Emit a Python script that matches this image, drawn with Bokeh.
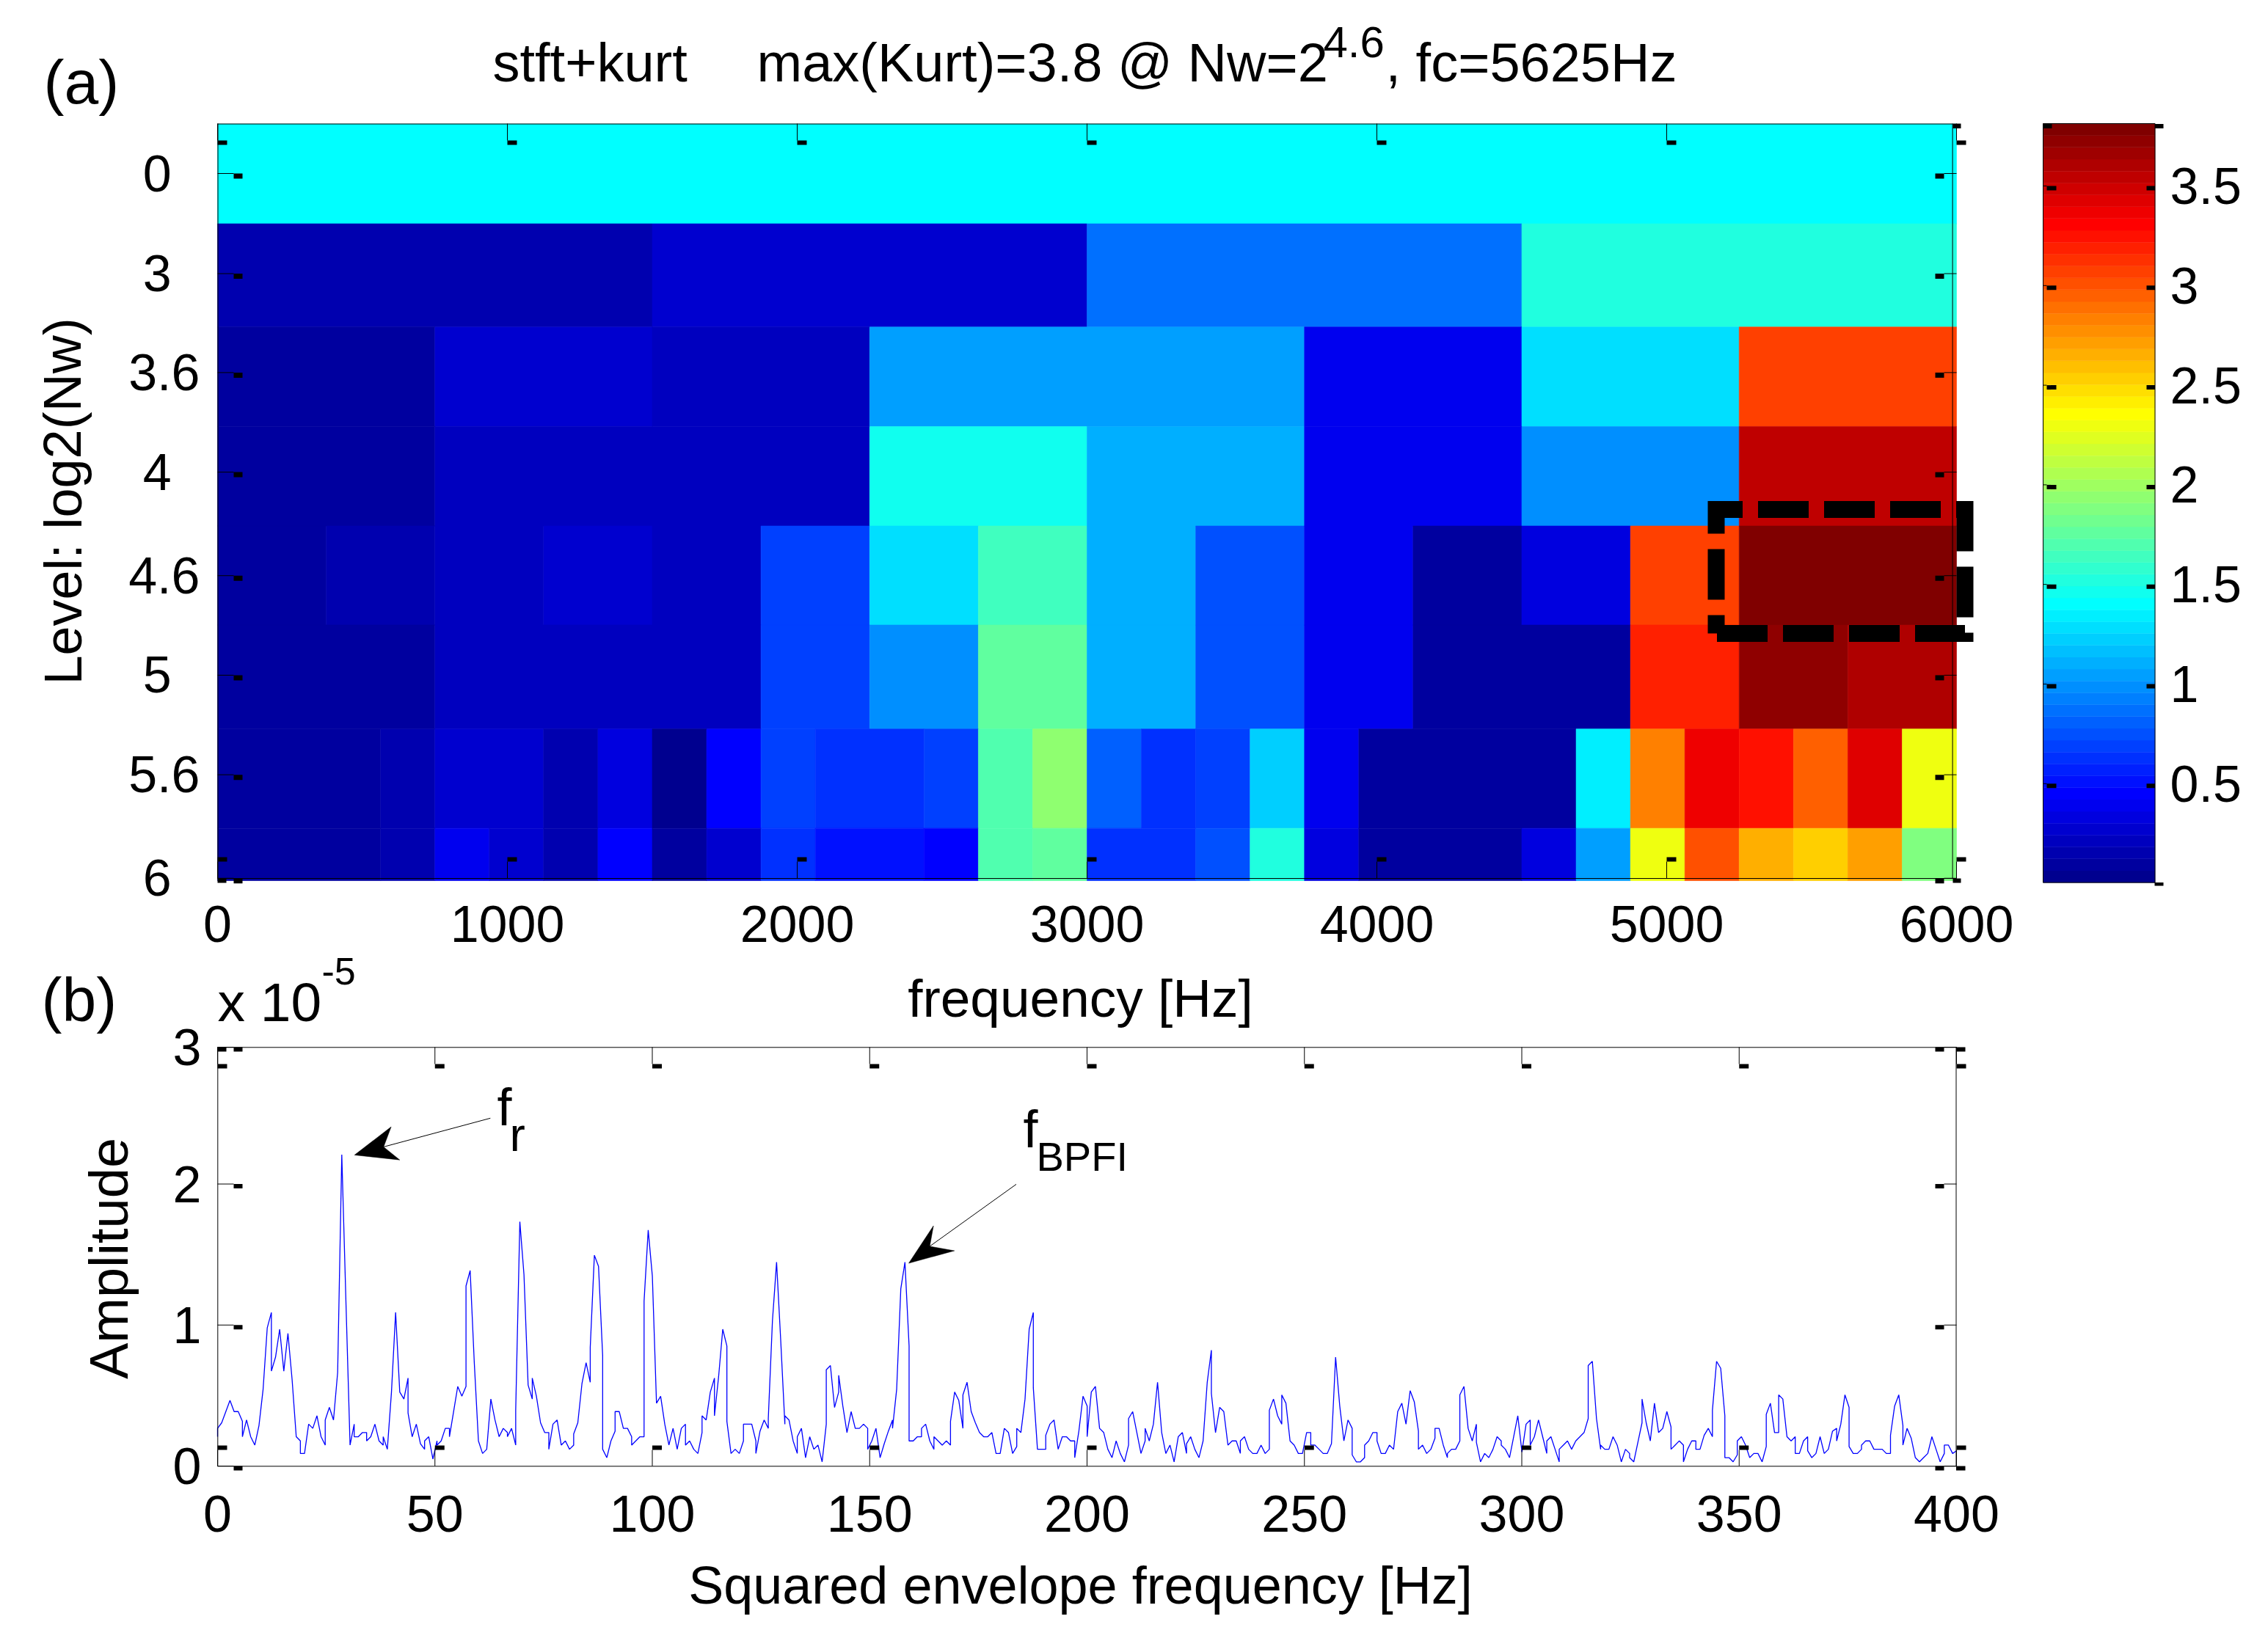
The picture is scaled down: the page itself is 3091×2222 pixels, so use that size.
from bokeh.plotting import figure
from bokeh.models import Range1d, FixedTicker, Label, LinearAxis
from bokeh.embed import file_html
from bokeh.resources import INLINE

FONT = "Liberation Sans"

# ---------- data ----------
level_labels = ["0", "3", "3.6", "4", "4.6", "5", "5.6", "6"]
level_tick_pos = [0, 1.006, 2, 3, 4.04, 5.04, 6.04, 7.08]
row_edges = [-0.497, 0.505, 1.542, 2.542, 3.541, 4.536, 5.58, 6.578, 7.104]
freq_ticks = [0, 1000, 2000, 3000, 4000, 5000, 6000]
freq_max = 6000

kurt_level_0 = [1.40]
kurt_level_3 = [0.15, 0.27, 0.87, 1.52]
kurt_level_36 = [0.09, 0.27, 0.21, 1.04, 1.04, 0.39, 1.28, 3.07]
kurt_level_4 = [0.09, 0.21, 0.21, 1.46, 1.10, 0.39, 0.98, 3.54]
kurt_level_46 = [0.09, 0.15, 0.21, 0.27, 0.21, 0.69, 1.28, 1.64,
                 1.10, 0.75, 0.39, 0.09, 0.33, 3.07, 3.78, 3.78]
kurt_level_5 = [0.09, 0.09, 0.21, 0.21, 0.21, 0.69, 0.98, 1.76,
                1.10, 0.75, 0.39, 0.09, 0.09, 3.19, 3.72, 3.60]
kurt_level_56 = [0.09, 0.09, 0.09, 0.15, 0.27, 0.27, 0.15, 0.33,
                 0.03, 0.45, 0.69, 0.63, 0.63, 0.69, 1.70, 1.94,
                 0.80, 0.63, 0.69, 1.22, 0.39, 0.09, 0.09, 0.09,
                 0.09, 1.34, 2.83, 3.36, 3.25, 2.95, 3.42, 2.29]
kurt_level_6 = [0.09, 0.09, 0.09, 0.15, 0.39, 0.27, 0.15, 0.45,
                0.09, 0.27, 0.63, 0.51, 0.51, 0.45, 1.70, 1.76,
                0.63, 0.63, 0.75, 1.52, 0.33, 0.09, 0.09, 0.09,
                0.33, 1.04, 2.29, 3.01, 2.65, 2.53, 2.71, 1.88]
kurt_rows = [kurt_level_0, kurt_level_3, kurt_level_36, kurt_level_4,
             kurt_level_46, kurt_level_5, kurt_level_56, kurt_level_6]
kurt_low, kurt_high = 0.0037, 3.813
cbar_ticks = [0.5, 1, 1.5, 2, 2.5, 3, 3.5]

env_bin_hz = 0.9525
env_x_ticks = [0, 50, 100, 150, 200, 250, 300, 350, 400]
env_y_tick_pos = [0, 1.01, 2.02, 3]
env_y_labels = ["0", "1", "2", "3"]
# amplitude x 1e-5; a bin with a tuple has a near-vertical step inside it
env_amp = [
 (.21,.27),.31,.39,.47,.39,.39,(.32,.21),.33,.21,.15,.29,.55,.99,(1.10,.68),.78,.98,.68,.95,.62,.21,
 (.18,.09),.09,.30,.27,.36,.21,(.15,.33),.42,.33,.67,2.23,1.18,.15,(.30,.21),.21,.24,(.24,.18),.21,.30,.18,
 (.15,.21),.12,.53,1.10,.53,.48,(.63,.38),.21,.30,.16,(.12,.18),.21,.05,(.18,.15),.18,.27,(.27,.21),.39,.57,.50,
 (.57,1.29),1.40,.74,.18,.09,.12,.48,.33,.21,.27,(.24,.21),.27,(.15,.40),1.75,1.37,.58,(.48,.63),.50,.31,.24,
 (.24,.12),.30,.33,.15,
 .18,.12,(.15,.23),.31,.59,.74,(.60,.85),1.51,1.43,(.79,.12),.06,.18,(.25,.39),.39,.27,.27,
 (.21,.15),.18,.21,(.21,1.18),1.69,1.36,.45,.50,.30,.15,.27,.12,.27,(.30,.15),.18,.12,.09,(.24,.36),.33,.53,
 (.63,.36),.64,.98,(.86,.32),.09,.12,.09,(.18,.30),.30,.30,(.18,.09),.25,.33,(.27,.34),1.04,1.46,.90,(.30,.36),
 .33,.18,(.09,.21),.27,.06,.21,.12,.15,.03,(.30,.69),.72,.42,(.53,.65),.43,.24,.39,.27,.27,.30,(.27,.12),
 .18,.27,.06,.16,.25,(.33,.27),.55,1.27,1.46,(.86,.18),
 .18,.21,(.21,.27),.30,.18,(.12,.21),.18,.15,.18,(.15,.32),.53,.47,(.27,.51),.60,.39,.31,.24,.21,.21,.24,
 .09,.09,.27,.24,.09,(.14,.27),.24,.48,.98,(1.10,.56),.12,.12,(.12,.22),.30,.33,.12,.21,.21,.18,(.18,.06),
 .25,.50,(.43,.21),.53,.57,.27,.24,.12,.06,.18,.09,.03,(.15,.34),.39,.24,.09,(.18,.27),.18,.30,.60,
 .24,.09,.15,.03,.21,.24,(.09,.16),.21,.12,.06,.18,.60,(.83,.52),.24,.42,.39,.15,.18,.18,(.09,.18),
 .21,.12,.09,.09,
 .15,.09,(.12,.40),.48,.36,(.30,.51),.45,.18,.15,.09,.09,.24,(.24,.15),.15,.12,.09,.09,.16,.78,.43,
 .18,.33,(.27,.08),.03,.03,(.06,.15),.18,.24,(.24,.18),.09,.09,.15,.12,.39,.45,.30,.54,.46,(.25,.12),.15,
 .09,.12,(.20,.27),.27,.15,(.06,.09),.12,.12,(.18,.51),.57,.27,.18,(.30,.17),.03,.09,.06,.12,.21,(.18,.15),.12,
 .06,.21,.36,.10,.30,(.33,.15),.21,.33,.21,(.09,.18),.21,.12,(.03,.12),.15,.18,.12,.18,.21,.24,(.34,.72),
 .75,.34,(.12,.15),.12,
 .12,.21,.15,.03,.12,(.09,.06),.03,.17,(.31,.48),.31,.18,.45,.24,.27,.39,(.28,.12),.15,.18,(.15,.03),.12,
 .18,(.18,.12),.12,.22,.27,(.21,.40),.75,.70,(.36,.06),.06,.03,(.08,.18),.21,.15,.06,.09,.09,.03,(.14,.37),.45,
 .24,(.24,.51),.48,.21,.18,(.21,.09),.09,.18,(.21,.11),.06,.09,.21,.09,.12,.25,(.27,.18),.30,.51,(.42,.14),.09,
 .09,(.12,.15),.18,.18,.12,.12,.12,.09,(.09,.22),.43,.51,(.29,.15),.27,.20,.06,.03,.06,.09,.21,.12,
 .03,(.09,.15),.15,.09,.11,
]


def jet(n=64):
    out = []
    for i in range(n):
        t = 4.0 * (i + 1) / n
        r = min(t - 1.5, 4.5 - t)
        g = min(t - 0.5, 3.5 - t)
        b = min(t + 0.5, 2.5 - t)
        c = [int(round(255 * max(0.0, min(1.0, v)))) for v in (r, g, b)]
        out.append("#%02x%02x%02x" % tuple(c))
    return out


JET = jet(64)


def kurt_color(v):
    i = int((v - kurt_low) / (kurt_high - kurt_low) * 64)
    return JET[max(0, min(63, i))]


def make_fig(w, h, xr, yr, ml, mr, mt, mb, fill="white", **kw):
    p = figure(width=w, height=h, x_range=Range1d(*xr), y_range=Range1d(*yr),
               min_border_left=ml, min_border_right=mr, min_border_top=mt, min_border_bottom=mb,
               toolbar_location=None, output_backend="svg", outline_line_color=None,
               background_fill_color=fill, border_fill_color=fill, **kw)
    p.grid.visible = False
    return p


def text_strip(height, y0, **kw):
    """Transparent figure whose frame is its whole canvas; data units are page pixels."""
    s = figure(width=3078, height=height, x_range=Range1d(0, 3078), y_range=Range1d(y0 + height, y0),
               x_axis_location=None, y_axis_location=None, min_border_left=0, min_border_right=0,
               min_border_top=0, min_border_bottom=0, toolbar_location=None, output_backend="svg",
               outline_line_color=None, background_fill_color=None, border_fill_color=None, **kw)
    s.grid.visible = False
    return s


def style_axis(ax, ticks, overrides=None, standoff=10, size="70px"):
    ax.ticker = FixedTicker(ticks=list(ticks))
    if overrides:
        ax.major_label_overrides = overrides
    ax.axis_line_color = None
    ax.major_tick_line_color = None
    ax.minor_tick_line_color = None
    ax.major_tick_in = 0
    ax.major_tick_out = 0
    ax.minor_tick_in = 0
    ax.minor_tick_out = 0
    ax.major_label_standoff = standoff
    ax.major_label_text_font = FONT
    ax.major_label_text_font_size = size
    ax.major_label_text_color = "black"


def txt(p, x, y, s, size, align="left", base="alphabetic", angle=0, side="center"):
    # a Label in a side panel is not clipped to the frame
    p.add_layout(Label(x=x, y=y, text=s, text_font=FONT, text_font_size=f"{size}px",
                       text_color="black", text_align=align, text_baseline=base, angle=angle), side)


def blocks(p, xs0, xs1, ys0, ys1, **kw):
    p.quad(left=xs0, right=xs1, bottom=ys0, top=ys1, fill_color="black", line_color=None, **kw)


# ---------- title strip ----------
top = text_strip(163, 0)
txt(top, 59, 111, "(a)", 84, base="middle")
txt(top, 671, 85, "stft+kurt", 74)
txt(top, 1031, 85, "max(Kurt)=3.8 @ Nw=2", 74)
txt(top, 1803, 57, "4.6", 60)
txt(top, 1888, 85, ", fc=5625Hz", 74)

# ---------- (a) kurtogram with colour bar in the same figure ----------
sx1 = lambda px: (px - 296) * freq_max / 2370
sy1 = lambda py: (py - 236) / 135.7
p1 = make_fig(3078, 1157, (sx1(290), sx1(2950)), (sy1(1210), sy1(163)), 290, 128, 0, 110)

L, R, T, B, C = [], [], [], [], []
for ri, vals in enumerate(kurt_rows):
    w = freq_max / len(vals)
    ci = 0
    while ci < len(vals):
        cj = ci
        while cj + 1 < len(vals) and kurt_color(vals[cj + 1]) == kurt_color(vals[ci]):
            cj += 1
        L.append(ci * w); R.append((cj + 1) * w)
        T.append(row_edges[ri]); B.append(row_edges[ri + 1]); C.append(kurt_color(vals[ci]))
        ci = cj + 1
p1.quad(left=L, right=R, top=T, bottom=B, fill_color=C, line_color=C, line_width=0.6)

style_axis(p1.xaxis[0], freq_ticks, standoff=24)
style_axis(p1.yaxis[0], level_tick_pos, standoff=18,
           overrides={t: (s if len(s) > 1 else s + "\u2007") for t, s in zip(level_tick_pos, level_labels)})

# box + ticks
p1.multi_line(xs=[[sx1(296.5)] * 2, [sx1(296), sx1(2661)], [sx1(2660.6)] * 2, [sx1(296), sx1(2666)]],
              ys=[[sy1(168), sy1(1197)], [sy1(168.5)] * 2, [sy1(168), sy1(1197)], [sy1(1197)] * 2],
              line_color="black", line_width=1)
p1.segment(x0=freq_ticks, x1=freq_ticks, y0=[sy1(168)] * 7, y1=[sy1(191)] * 7, line_color="black", line_width=1)
p1.segment(x0=freq_ticks, x1=freq_ticks, y0=[sy1(1197)] * 7, y1=[sy1(1174)] * 7, line_color="black", line_width=1)
n = len(level_tick_pos)
p1.segment(x0=[sx1(296)] * n, x1=[sx1(318)] * n, y0=level_tick_pos, y1=level_tick_pos, line_color="black", line_width=1)
p1.segment(x0=[sx1(2649)] * n, x1=[sx1(2666)] * n, y0=level_tick_pos, y1=level_tick_pos, line_color="black", line_width=1)
dx = 13 * freq_max / 2370
blocks(p1, freq_ticks, [t + dx for t in freq_ticks], [sy1(191)] * 7, [sy1(197)] * 7)
blocks(p1, freq_ticks, [t + dx for t in freq_ticks], [sy1(1168)] * 7, [sy1(1174)] * 7)
dy = 7 / 135.7
blocks(p1, [sx1(318)] * n, [sx1(330)] * n, level_tick_pos, [t + dy for t in level_tick_pos])
blocks(p1, [sx1(2637)] * n, [sx1(2649)] * n, level_tick_pos, [t + dy for t in level_tick_pos])
blocks(p1, [sx1(2661), sx1(296), sx1(2661)], [sx1(2672), sx1(308), sx1(2672)],
       [sy1(168), sy1(1197), sy1(1197)], [sy1(174.6), sy1(1203), sy1(1203)])

# selection rectangle
p1.line(x=[sx1(2338.5), sx1(2338.5), sx1(2677.5), sx1(2677.5), sx1(2338.5)],
        y=[sy1(863), sy1(694), sy1(694), sy1(863), sy1(863)],
        line_color="black", line_width=23, line_dash="69 21", line_dash_offset=44,
        line_join="miter", line_cap="butt")

txt(p1, sx1(85), sy1(683), "Level: log2(Nw)", 72, align="center", base="middle", angle=1.5708, side="left")

# ---------- colour bar ----------
sy3 = lambda py: 3.5 - (py - 253) / 271.6
p1.extra_y_ranges = {"cbar": Range1d(sy3(1210), sy3(163))}
cb_axis = LinearAxis(y_range_name="cbar")
p1.add_layout(cb_axis, "right")
style_axis(cb_axis, cbar_ticks, standoff=7)
cl, cr = sx1(2784), sx1(2936.5)
step = (kurt_high - kurt_low) / 64
p1.quad(left=[cl] * 64, right=[cr] * 64, bottom=[kurt_low + i * step for i in range(64)],
        top=[kurt_low + (i + 1) * step for i in range(64)], fill_color=JET, line_color=JET, line_width=0.5,
        y_range_name="cbar")
p1.multi_line(xs=[[cl, cl], [cr, cr], [cl, cr], [cl, cr]],
              ys=[[kurt_low, kurt_high], [kurt_low, kurt_high], [kurt_low] * 2, [kurt_high] * 2],
              line_color="black", line_width=1, y_range_name="cbar")
m = len(cbar_ticks)
p1.segment(x0=[cl] * m, x1=[sx1(2789)] * m, y0=cbar_ticks, y1=cbar_ticks, line_color="black", line_width=1,
           y_range_name="cbar")
dv = 6 / 271.6
blocks(p1, [sx1(2789)] * m, [sx1(2802)] * m, [t - dv for t in cbar_ticks], cbar_ticks, y_range_name="cbar")
blocks(p1, [sx1(2925)] * m, [cr] * m, [t - dv for t in cbar_ticks], cbar_ticks, y_range_name="cbar")
blocks(p1, [cl, cr, sx1(2936)], [sx1(2796), sx1(2948), sx1(2948)],
       [sy3(174.6), sy3(174.6), sy3(1207)], [sy3(168.5), sy3(168.5), sy3(1202.6)], y_range_name="cbar")

# ---------- strip between the two panels (overlaps the tick-label zone, transparent) ----------
mid = text_strip(122, 1300, margin=(-20, 0, 0, 0))
txt(mid, 56, 1362, "(b)", 84, base="middle")
txt(mid, 1472, 1360, "frequency [Hz]", 73, align="center", base="middle")
txt(mid, 296, 1365, "x 10", 75)
txt(mid, 438, 1323, "-5", 52)

# ---------- (b) squared envelope ----------
sx2 = lambda px: (px - 296) * 400 / 2370
sy2 = lambda py: (1998 - py) / 190.33
p2 = make_fig(3078, 829, (sx2(290), sx2(2950)), (sy2(2008), sy2(1385)), 290, 128, 0, 206,
              fill=None, margin=(-37, 0, 0, 0))

ex, ey = [], []
for i, a in enumerate(env_amp):
    for v in (a if isinstance(a, tuple) else (a,)):
        ex.append(i * env_bin_hz)
        ey.append(v)
p2.line(ex, ey, line_color="#0000ff", line_width=1.3)

style_axis(p2.xaxis[0], env_x_ticks, standoff=30)
style_axis(p2.yaxis[0], env_y_tick_pos, overrides=dict(zip(env_y_tick_pos, env_y_labels)), standoff=16)

p2.multi_line(xs=[[sx2(296.3)] * 2, [sx2(2665.5)] * 2, [sx2(296), sx2(2666)], [sx2(296), sx2(2666)]],
              ys=[[sy2(1427.3), sy2(1998.3)], [sy2(1427.3), sy2(1998.3)], [sy2(1427.3)] * 2, [sy2(1998.3)] * 2],
              line_color="black", line_width=1)
q = len(env_x_ticks)
p2.segment(x0=env_x_ticks, x1=env_x_ticks, y0=[sy2(1427)] * q, y1=[sy2(1450)] * q, line_color="black", line_width=1)
p2.segment(x0=env_x_ticks, x1=env_x_ticks, y0=[sy2(1998)] * q, y1=[sy2(1976)] * q, line_color="black", line_width=1)
k = len(env_y_tick_pos)
p2.segment(x0=[sx2(296)] * k, x1=[sx2(318)] * k, y0=env_y_tick_pos, y1=env_y_tick_pos, line_color="black", line_width=1)
p2.segment(x0=[sx2(2649)] * k, x1=[sx2(2666)] * k, y0=env_y_tick_pos, y1=env_y_tick_pos, line_color="black", line_width=1)
dx2 = 13 * 400 / 2370
blocks(p2, env_x_ticks, [t + dx2 for t in env_x_ticks], [sy2(1456)] * q, [sy2(1450)] * q)
blocks(p2, env_x_ticks, [t + dx2 for t in env_x_ticks], [sy2(1976)] * q, [sy2(1970)] * q)
dy2 = 6 / 190.33
blocks(p2, [sx2(318)] * k, [sx2(330)] * k, [t - dy2 for t in env_y_tick_pos], env_y_tick_pos)
blocks(p2, [sx2(2637)] * k, [sx2(2649)] * k, [t - dy2 for t in env_y_tick_pos], env_y_tick_pos)
blocks(p2, [sx2(296), sx2(2665.5), sx2(2665.5)], [sx2(308), sx2(2678), sx2(2678)],
       [sy2(1433), sy2(1433), sy2(2004)], [sy2(1427), sy2(1427), sy2(1998)])

# arrows
p2.patch([sx2(v) for v in (482.6, 532.6, 522.3, 544.3)], [sy2(v) for v in (1574, 1535.6, 1562.9, 1580.7)],
         fill_color="black", line_color="black", line_width=0.5)
p2.line([sx2(522.3), sx2(667.8)], [sy2(1562.9), sy2(1523.8)], line_color="black", line_width=1)
p2.patch([sx2(v) for v in (1238, 1271.7, 1266.6, 1300.3)], [sy2(v) for v in (1721.5, 1670.5, 1698.5, 1704.5)],
         fill_color="black", line_color="black", line_width=0.5)
p2.line([sx2(1266.6), sx2(1384.5)], [sy2(1698.5), sy2(1613.9)], line_color="black", line_width=1)

txt(p2, sx2(677), sy2(1508), "f", 72)
txt(p2, sx2(694), sy2(1546), "r", 64)
txt(p2, sx2(1394), sy2(1538), "f", 72)
txt(p2, sx2(1412), sy2(1576), "BPFI", 56)
txt(p2, sx2(148), sy2(1715), "Amplitude", 74, align="center", base="middle", angle=1.5708, side="left")
txt(p2, sx2(1472), sy2(2160), "Squared envelope frequency [Hz]", 72, align="center", base="middle", side="below")

open("out.html", "w").write(file_html([top, p1, mid, p2], INLINE))
